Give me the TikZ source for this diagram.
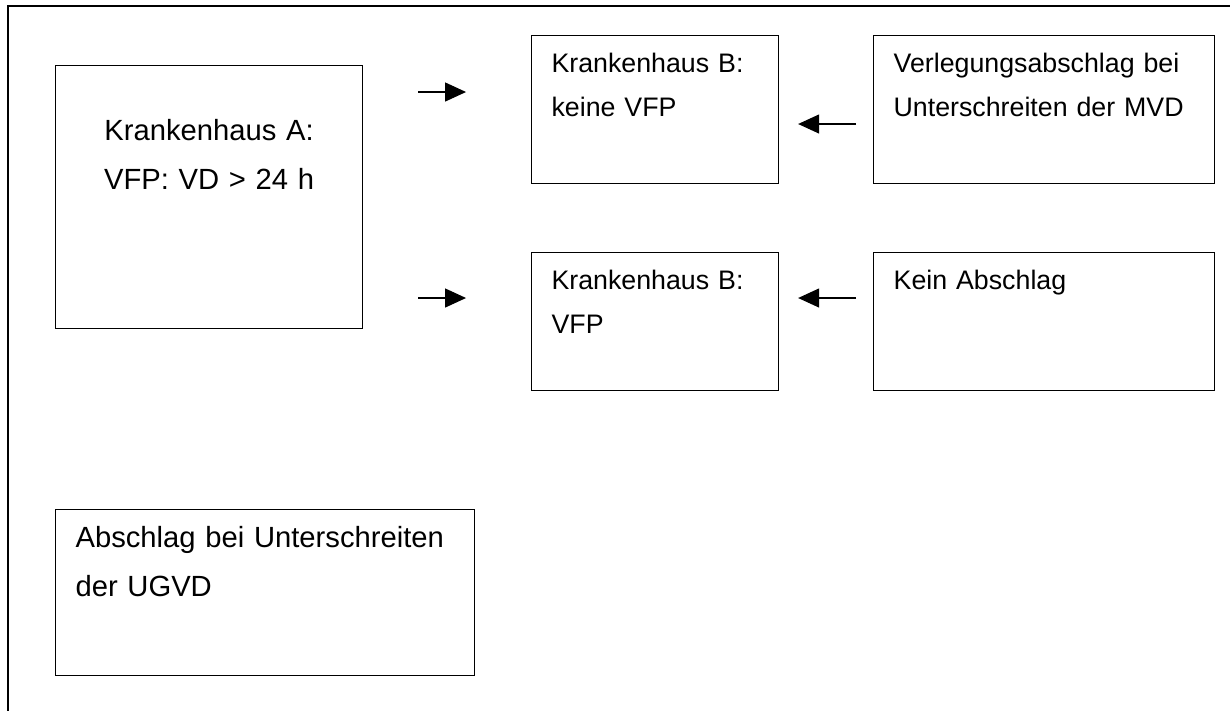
\documentclass[tikz,border=0pt]{standalone}
\usepackage{fontspec}
\setmainfont{Liberation Sans}
\usepackage{tikz}
\usetikzlibrary{arrows.meta, positioning}

\begin{document}
\begin{tikzpicture}[
    x = 0.411pt, y = -0.411pt,
    kasten/.style = {
      draw,
      rectangle,
      anchor = north west,
      inner xsep = 8.2pt,
      inner ysep = 0pt,
      line width = 0.5pt,
      align = left,
    },
    gross/.style = {font = \fontsize{12}{20.3}\selectfont},
    klein/.style = {font = \fontsize{11}{18.1}\selectfont},
    pfeil/.style = {
      -{Triangle[length = 8.6pt, width = 7.8pt]},
      line width = 0.45pt,
    },
  ]
  \useasboundingbox (0,0) rectangle (1230,711);

  % Rahmen oben und links
  \draw [line width = 0.75pt] (1230,6) -- (8,6) -- (8,711);

  \node [kasten, gross, inner xsep = 0pt, align = center, text width = 126.2pt,
    text height = 30.8pt, text depth = 77.3pt] (ka) at (55,65)
    {Krankenhaus A:\\VFP: VD > 24 h};

  \node [kasten, klein, text width = 85.1pt, text height = 15.2pt,
    text depth = 45.6pt] (kb1) at (531,35) {Krankenhaus B:\\keine VFP};
  \node [kasten, klein, text width = 123.8pt, text height = 15.2pt,
    text depth = 45.6pt, right = 38.6pt of kb1] (mvd)
    {Verlegungsabschlag bei\\Unterschreiten der MVD};

  \node [kasten, klein, text width = 85.1pt, text height = 15.2pt,
    text depth = 41.5pt] (kb2) at (531,252) {Krankenhaus B:\\VFP};
  \node [kasten, klein, text width = 123.8pt, text height = 15.2pt,
    text depth = 41.5pt, right = 38.6pt of kb2] (kein) {Kein Abschlag};

  \node [kasten, gross, text width = 155.8pt, text height = 15.6pt,
    text depth = 52.6pt] (ugvd) at (55,509)
    {Abschlag bei Unterschreiten\\der UGVD};

  \draw [pfeil, shorten <= 22.6pt, shorten >= 26.7pt]
    (ka.east |- 0,92) -- (kb1.west |- 0,92);
  \draw [pfeil, shorten <= 22.6pt, shorten >= 26.7pt]
    (ka.east |- 0,298) -- (kb2.west |- 0,298);
  \draw [pfeil, shorten <= 7.0pt, shorten >= 7.8pt]
    (mvd.west |- 0,124) -- (kb1.east |- 0,124);
  \draw [pfeil, shorten <= 7.0pt, shorten >= 7.8pt]
    (kein.west |- 0,298) -- (kb2.east |- 0,298);
\end{tikzpicture}
\end{document}
